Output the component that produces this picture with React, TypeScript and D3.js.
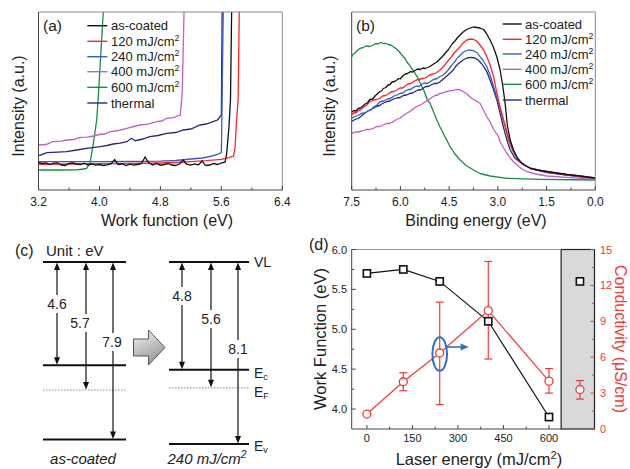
import React from 'react';
import * as d3 from 'd3';

const FONT = "'Liberation Sans', Arial, Helvetica, sans-serif";

// ---------- shared legend ----------
const seriesNames = ['as-coated', '120 mJ/cm', '240 mJ/cm', '400 mJ/cm', '600 mJ/cm', 'thermal'];
const seriesSup = [false, true, true, true, true, false];
const seriesColors = ['#111111', '#ff2626', '#3a5cc6', '#c060c0', '#1d8a44', '#28287a'];

// ---------- (a) secondary electron cutoff: [work function (eV), intensity (a.u.)] ----------
const wfTicks = [3.2, 4.0, 4.8, 5.6, 6.4];
const cutAsCoated: [number, number][] = [
  [3.20, 27.5], [3.25, 26.5], [3.30, 27.0], [3.35, 25.5], [3.40, 26.8], [3.45, 27.2], [3.50, 25.0], [3.55, 24.5],
  [3.60, 26.5], [3.65, 27.0], [3.70, 26.0], [3.75, 25.5], [3.80, 26.8], [3.85, 25.0], [3.90, 26.0], [3.95, 24.8],
  [4.00, 25.5], [4.05, 24.5], [4.10, 25.2], [4.15, 26.0], [4.20, 30.5], [4.23, 27.0], [4.25, 25.5], [4.30, 26.0],
  [4.35, 24.5], [4.40, 25.8], [4.45, 24.8], [4.50, 25.5], [4.55, 26.5], [4.60, 33.0], [4.63, 29.0], [4.65, 27.0],
  [4.70, 25.0], [4.75, 26.5], [4.80, 24.8], [4.85, 25.5], [4.90, 26.5], [4.95, 25.0], [5.00, 24.5], [5.05, 26.0],
  [5.10, 30.0], [5.13, 27.0], [5.15, 25.5], [5.20, 24.8], [5.25, 26.0], [5.30, 25.2], [5.35, 29.0], [5.38, 25.5],
  [5.40, 24.5], [5.45, 25.0], [5.50, 26.5], [5.55, 25.5], [5.60, 27.0], [5.65, 28.0], [5.67, 36.7], [5.70, 63.3],
  [5.72, 90], [5.735, 178], [5.745, 200],
];
const cut120: [number, number][] = [
  [3.2, 25.7], [3.6, 26.0], [4.0, 26.3], [4.4, 26.5], [4.8, 27.0], [5.0, 27.5], [5.2, 28.3], [5.4, 29.3],
  [5.6, 30.7], [5.7, 32.3], [5.76, 34], [5.78, 43], [5.80, 70], [5.82, 90], [5.835, 178], [5.845, 200],
];
const cut240: [number, number][] = [
  [3.2, 28.3], [3.6, 28.3], [4.0, 28.4], [4.4, 28.5], [4.8, 28.8], [5.0, 29.5], [5.2, 31], [5.35, 32],
  [5.45, 33.5], [5.55, 35.5], [5.6, 37.3], [5.605, 60], [5.615, 120], [5.625, 178], [5.63, 200],
];
const cut400: [number, number][] = [
  [3.2, 45], [3.3, 45.5], [3.39, 48.3], [3.5, 48.8], [3.57, 50], [3.66, 50.5], [3.75, 52.7], [3.84, 52.8],
  [3.92, 54], [4.0, 55.5], [4.07, 56], [4.14, 58.3], [4.25, 59.5], [4.36, 61.7], [4.45, 63.5], [4.53, 65],
  [4.64, 65.8], [4.75, 68.3], [4.82, 69], [4.88, 71.7], [4.97, 72.3], [5.06, 75], [5.08, 90], [5.09, 106.7],
  [5.11, 178], [5.115, 200],
];
const cut600: [number, number][] = [
  [3.2, 20], [3.5, 20], [3.7, 20.2], [3.79, 21], [3.83, 21.7], [3.876, 26.7], [3.92, 46.7], [3.964, 70],
  [3.985, 93.3], [4.05, 178], [4.06, 200],
];
const cutThermal: [number, number][] = [
  [3.207, 34.3], [3.31, 37.3], [3.45, 37.8], [3.57, 38.3], [3.7, 40], [3.83, 41.7], [4.01, 43.3], [4.1, 44.5],
  [4.18, 46], [4.27, 46.8], [4.36, 48.3], [4.42, 51.7], [4.47, 49.3], [4.57, 51], [4.66, 53.3], [4.77, 54.5],
  [4.88, 56.7], [5.0, 57.5], [5.10, 60], [5.2, 61], [5.32, 65], [5.40, 66], [5.49, 68.3], [5.55, 70],
  [5.60, 75], [5.61, 178], [5.615, 200],
];

// ---------- (b) valence band: [binding energy (eV), intensity (a.u.)] ----------
const beTicks = [7.5, 6.0, 4.5, 3.0, 1.5, 0.0];
const vbAsCoated: [number, number][] = [
  [7.50, 78], [7.43, 79.5], [7.37, 79], [7.30, 81.5], [7.24, 82], [7.17, 83.5], [7.09, 86], [7.02, 87],
  [6.94, 90.5], [6.86, 91], [6.78, 94], [6.70, 96.5], [6.63, 98.5], [6.58, 99], [6.53, 101.5], [6.45, 102.5],
  [6.38, 105], [6.32, 105.5], [6.26, 108], [6.18, 108.5], [6.11, 110], [6.06, 111.5], [6.01, 111], [5.93, 114],
  [5.85, 116], [5.78, 116.5], [5.70, 118.3], [5.62, 118], [5.55, 119.5], [5.47, 121], [5.39, 120.5], [5.31, 122],
  [5.24, 121.5], [5.16, 122.5], [5.09, 123.5], [4.98, 126], [4.88, 128], [4.80, 130.5], [4.72, 133], [4.65, 135.5],
  [4.59, 138], [4.53, 140], [4.47, 143], [4.40, 146.5], [4.32, 149], [4.24, 152.5], [4.16, 155], [4.07, 158],
  [3.96, 160.5], [3.85, 162], [3.75, 163], [3.65, 162.5], [3.55, 162], [3.44, 160.5], [3.36, 157], [3.24, 150],
  [3.14, 143], [3.03, 133], [2.93, 120], [2.84, 102], [2.77, 85], [2.71, 65], [2.62, 50], [2.52, 40],
  [2.41, 33], [2.31, 28.3], [2.16, 24.5], [2.00, 21.7], [1.79, 20], [1.49, 18.5], [1.20, 17], [0.87, 15.5],
  [0.46, 14], [0.00, 12],
];
const vb120: [number, number][] = [
  [7.50, 75], [7.43, 77.5], [7.37, 77], [7.30, 79.5], [7.24, 80], [7.15, 82.5], [7.04, 85], [6.93, 88.5],
  [6.83, 90], [6.73, 90.5], [6.63, 91.7], [6.55, 94], [6.46, 94.5], [6.38, 96], [6.30, 98], [6.20, 98.5],
  [6.11, 100], [6.02, 102], [5.93, 102], [5.85, 104], [5.77, 106], [5.68, 106.5], [5.60, 108.3], [5.50, 110],
  [5.39, 111], [5.30, 111.5], [5.19, 112.7], [5.10, 115], [4.99, 116], [4.90, 117], [4.78, 120], [4.70, 122.5],
  [4.63, 125], [4.55, 128.5], [4.47, 131.7], [4.40, 134.5], [4.32, 138], [4.24, 140.5], [4.16, 143.3], [4.10, 146],
  [4.07, 147], [3.96, 150], [3.85, 151], [3.75, 150.7], [3.65, 149], [3.55, 145], [3.44, 140], [3.34, 133.3],
  [3.24, 125], [3.13, 113.3], [3.05, 100], [2.98, 90], [2.90, 78], [2.83, 70], [2.72, 58], [2.62, 46.7],
  [2.50, 37], [2.36, 30], [2.19, 25], [2.00, 21.7], [1.70, 19.5], [1.49, 18.5], [0.87, 15.5], [0.00, 12],
];
const vb240: [number, number][] = [
  [7.50, 71.7], [7.40, 73.5], [7.30, 74.5], [7.20, 76.5], [7.10, 77], [7.00, 79], [6.91, 80], [6.82, 83],
  [6.72, 85], [6.63, 88.3], [6.52, 89], [6.40, 91], [6.30, 91.5], [6.20, 94], [6.11, 95], [6.02, 96.5],
  [5.93, 97], [5.85, 99], [5.76, 100.5], [5.68, 100.5], [5.60, 102.7], [5.50, 104], [5.43, 103.5], [5.36, 105.5],
  [5.26, 107], [5.17, 106.5], [5.09, 108.3], [4.98, 110.5], [4.87, 111.5], [4.78, 113.5], [4.68, 115], [4.60, 117.5],
  [4.53, 120], [4.45, 123.5], [4.37, 126.7], [4.30, 129.5], [4.25, 132], [4.18, 134], [4.11, 136.7], [4.00, 139],
  [3.90, 140], [3.75, 139.3], [3.63, 137], [3.55, 133.3], [3.44, 129], [3.34, 123.3], [3.24, 115], [3.13, 103.3],
  [3.01, 90], [2.88, 76.7], [2.77, 63], [2.67, 50], [2.55, 40], [2.41, 31.7], [2.24, 26], [2.00, 22],
  [1.49, 18], [0.87, 15], [0.00, 11.5],
];
const vb400: [number, number][] = [
  [7.50, 56.7], [7.40, 58], [7.30, 58], [7.18, 59], [7.06, 60.5], [6.95, 60.5], [6.83, 61.7], [6.73, 63.5],
  [6.63, 63.5], [6.54, 65], [6.43, 66.5], [6.33, 66.5], [6.22, 68.3], [6.12, 70.5], [6.01, 72], [5.91, 74.5],
  [5.81, 76.7], [5.71, 78.5], [5.61, 81], [5.50, 83.5], [5.39, 85], [5.27, 87.5], [5.14, 90], [5.04, 92.5],
  [4.93, 94.5], [4.85, 95], [4.78, 96.7], [4.70, 97], [4.63, 98], [4.55, 98.5], [4.47, 99.3], [4.37, 99.5],
  [4.27, 100.7], [4.16, 100], [4.06, 98.3], [3.95, 96], [3.81, 91.7], [3.67, 89], [3.55, 86.7], [3.34, 73.3],
  [3.24, 68], [3.12, 60], [2.98, 53.3], [2.93, 48.3], [2.84, 43], [2.72, 36.7], [2.62, 32], [2.52, 28.3],
  [2.41, 25], [2.28, 21.5], [2.10, 18.3], [1.85, 16], [1.49, 14], [0.77, 12.3], [0.00, 10.7],
];
const vb600: [number, number][] = [
  [7.50, 133.3], [7.45, 136], [7.40, 137], [7.33, 139.5], [7.24, 141.7], [7.15, 142.5], [7.06, 144], [6.95, 143.5],
  [6.83, 145], [6.76, 146.5], [6.69, 146], [6.61, 147.5], [6.53, 146.7], [6.45, 146.5], [6.38, 145.5], [6.30, 145],
  [6.22, 143.3], [6.14, 141.5], [6.07, 139.5], [5.99, 136.5], [5.91, 133.3], [5.85, 131], [5.80, 128], [5.72, 125],
  [5.65, 121.7], [5.58, 118.5], [5.52, 115], [5.45, 111], [5.39, 106.7], [5.27, 99], [5.17, 90], [5.09, 86.7],
  [4.99, 79], [4.88, 70], [4.78, 63], [4.68, 56.7], [4.47, 43.3], [4.32, 36], [4.16, 30], [3.98, 24.5],
  [3.75, 20], [3.55, 16.5], [3.24, 14], [2.72, 11.7], [1.70, 10.7], [0.00, 10],
];
const vbThermal: [number, number][] = [
  [7.50, 68.5], [7.40, 70.5], [7.30, 71.5], [7.20, 74], [7.09, 77], [6.98, 79.5], [6.87, 81], [6.75, 83.5],
  [6.64, 84.5], [6.53, 87], [6.42, 88.3], [6.32, 89], [6.21, 91], [6.11, 92], [6.01, 92.5], [5.91, 94.5],
  [5.81, 95], [5.71, 96.5], [5.63, 97], [5.55, 98.5], [5.46, 100], [5.38, 100], [5.30, 101.7], [5.22, 103.5],
  [5.14, 103.5], [5.06, 105], [4.96, 106.5], [4.87, 106.5], [4.78, 108.3], [4.68, 111], [4.57, 114], [4.47, 117],
  [4.37, 120], [4.30, 123.5], [4.23, 126], [4.15, 128], [4.07, 130], [3.95, 132], [3.81, 132.7], [3.71, 132],
  [3.61, 130], [3.49, 126], [3.34, 118.3], [3.24, 110], [3.13, 100], [3.03, 90], [2.93, 76.7], [2.83, 63],
  [2.72, 50], [2.62, 40], [2.47, 31.7], [2.24, 26], [2.00, 21.7], [1.49, 17.5], [0.87, 15], [0.00, 11.7],
];

// ---------- (c) energy levels below vacuum level (eV) ----------
const levelNames = ['VL', 'E', 'E', 'E'];
const levelSubs = ['', 'c', 'F', 'v'];
const levelsAsCoated = [0, 4.6, 5.7, 7.9];
const levels240 = [0, 4.8, 5.6, 8.1];

// ---------- (d) work function & conductivity ----------
const laserEnergy = [0, 120, 240, 400, 600];
const workFunction = [5.70, 5.75, 5.60, 5.10, 3.90];
const conductivity = [1.25, 3.95, 6.35, 9.9, 4.0];
const condErrLow = [1.25, 3.2, 2.05, 5.85, 3.0];
const condErrHigh = [1.25, 4.7, 10.6, 14.0, 5.05];
const thermalX = 702;
const thermalWF = 5.6;
const thermalCond = 3.3;
const thermalCondLow = 2.5;
const thermalCondHigh = 4.05;
const laserTicks = [0, 150, 300, 450, 600];
const laserMinor = [75, 225, 375, 525];
const wfAxisTicks = [4.0, 4.5, 5.0, 5.5, 6.0];
const wfAxisMinor = [4.25, 4.75, 5.25, 5.75];
const condTicks = [0, 3, 6, 9, 12, 15];
const condMinor = [1.5, 4.5, 7.5, 10.5, 13.5];

const RED = '#f03a3a';

function Sup({ base, sup, size }: { base: string; sup: boolean; size: number }) {
  return (
    <>
      {base}
      {sup && (
        <tspan fontSize={size * 0.68} dy={-size * 0.38}>2</tspan>
      )}
    </>
  );
}

function Legend({ x1, x2, tx, rows }: { x1: number; x2: number; tx: number; rows: number[] }) {
  return (
    <g>
      {seriesNames.map((n, i) => (
        <g key={n}>
          <line x1={x1} x2={x2} y1={rows[i]} y2={rows[i]} stroke={seriesColors[i]} strokeWidth={1.4} />
          <text x={tx} y={rows[i] + 4.6} fontSize={13} fill="#222">
            <Sup base={n} sup={seriesSup[i]} size={13} />
          </text>
        </g>
      ))}
    </g>
  );
}

function PanelA() {
  const x = d3.scaleLinear().domain([3.2, 6.4]).range([38.5, 282.3]);
  const y = d3.scaleLinear().domain([0, 178]).range([190, 12]);
  const line = d3.line<[number, number]>().x(d => x(d[0])).y(d => y(d[1]));
  const curves: [[number, number][], number][] = [
    [cut600, 4], [cut400, 3], [cutThermal, 5], [cut240, 2], [cut120, 1], [cutAsCoated, 0],
  ];
  const minor = d3.range(3.6, 6.4, 0.8);
  return (
    <g>
      <defs>
        <clipPath id="clipA"><rect x={38.5} y={12} width={243.8} height={178} /></clipPath>
      </defs>
      <g clipPath="url(#clipA)">
        {curves.map(([d, ci], k) => (
          <path key={k} d={line(d) || ''} fill="none" stroke={seriesColors[ci]} strokeWidth={1.3} />
        ))}
      </g>
      <line x1={38.5} x2={282.3} y1={12} y2={12} stroke="#8a8a8a" />
      <line x1={282.3} x2={282.3} y1={12} y2={190} stroke="#8a8a8a" />
      <line x1={38.5} x2={38.5} y1={12} y2={190} stroke="#444" />
      <line x1={38.5} x2={282.3} y1={190} y2={190} stroke="#444" />
      {wfTicks.map(t => (
        <g key={t}>
          <line x1={x(t)} x2={x(t)} y1={190} y2={186} stroke="#444" />
          <text x={x(t)} y={206} fontSize={12} textAnchor="middle" fill="#222">{t.toFixed(1)}</text>
        </g>
      ))}
      {minor.map(t => <line key={t} x1={x(t)} x2={x(t)} y1={190} y2={187.5} stroke="#444" />)}
      <Legend x1={87.3} x2={107.3} tx={111} rows={[25.7, 41.3, 56.7, 71.7, 87.3, 103]} />
      <text x={43} y={31} fontSize={15.5} fill="#222">(a)</text>
      <text x={167} y={226} fontSize={16} textAnchor="middle" fill="#222">Work function (eV)</text>
      <text transform="translate(24,106) rotate(-90)" fontSize={16} textAnchor="middle" fill="#222">Intensity (a.u.)</text>
    </g>
  );
}

function PanelB() {
  const x = d3.scaleLinear().domain([7.5, 0]).range([351.7, 595.3]);
  const y = d3.scaleLinear().domain([0, 178]).range([190, 12]);
  const line = d3.line<[number, number]>().x(d => x(d[0])).y(d => y(d[1]));
  const curves: [[number, number][], number][] = [
    [vb600, 4], [vb400, 3], [vbThermal, 5], [vb240, 2], [vb120, 1], [vbAsCoated, 0],
  ];
  const minor = [6.75, 5.25, 3.75, 2.25, 0.75];
  return (
    <g>
      <defs>
        <clipPath id="clipB"><rect x={351.7} y={12} width={243.6} height={178} /></clipPath>
      </defs>
      <g clipPath="url(#clipB)">
        {curves.map(([d, ci], k) => (
          <path key={k} d={line(d) || ''} fill="none" stroke={seriesColors[ci]} strokeWidth={1.3} strokeLinejoin="round" />
        ))}
      </g>
      <line x1={351.7} x2={595.3} y1={12} y2={12} stroke="#8a8a8a" />
      <line x1={595.3} x2={595.3} y1={12} y2={190} stroke="#8a8a8a" />
      <line x1={351.7} x2={351.7} y1={12} y2={190} stroke="#444" />
      <line x1={351.7} x2={595.3} y1={190} y2={190} stroke="#444" />
      {beTicks.map(t => (
        <g key={t}>
          <line x1={x(t)} x2={x(t)} y1={190} y2={186} stroke="#444" />
          <text x={x(t)} y={206} fontSize={12} textAnchor="middle" fill="#222">{t.toFixed(1)}</text>
        </g>
      ))}
      {minor.map(t => <line key={t} x1={x(t)} x2={x(t)} y1={190} y2={187.5} stroke="#444" />)}
      <Legend x1={502.7} x2={521.7} tx={525} rows={[24, 39.3, 54, 69.3, 84.3, 100]} />
      <text x={356} y={31} fontSize={15.5} fill="#222">(b)</text>
      <text x={476} y={226} fontSize={16} textAnchor="middle" fill="#222">Binding energy (eV)</text>
      <text transform="translate(335,106) rotate(-90)" fontSize={16} textAnchor="middle" fill="#222">Intensity (a.u.)</text>
    </g>
  );
}

function Arrow2({ x, y1, y2 }: { x: number; y1: number; y2: number }) {
  const h = 8, w = 3;
  return (
    <g>
      <line x1={x} x2={x} y1={y1 + h - 1} y2={y2 - h + 1} stroke="#111" strokeWidth={1.2} />
      <path d={`M${x},${y1 + 0.5} L${x - w},${y1 + h} L${x + w},${y1 + h} Z`} fill="#111" />
      <path d={`M${x},${y2 - 0.5} L${x - w},${y2 - h} L${x + w},${y2 - h} Z`} fill="#111" />
    </g>
  );
}

function Diagram({ levels, x0, x1, arrowX, labelX, labelY, showNames }: {
  levels: number[]; x0: number; x1: number; arrowX: number[]; labelX: number[]; labelY: number[]; showNames: boolean;
}) {
  const y = d3.scaleLinear().domain([0, 8.1]).range([262, 444]);
  return (
    <g>
      {levels.map((lv, i) => (
        i === 2
          ? <line key={i} x1={x0} x2={x1} y1={y(lv)} y2={y(lv)} stroke="#888" strokeWidth={1} strokeDasharray="1.5,1.5" />
          : <line key={i} x1={x0} x2={x1} y1={y(lv)} y2={y(lv)} stroke="#111" strokeWidth={2} />
      ))}
      {levels.slice(1).map((lv, i) => (
        <g key={i}>
          <Arrow2 x={arrowX[i]} y1={y(0)} y2={y(lv)} />
          <rect x={labelX[i] - 11} y={labelY[i] - 9} width={22} height={18} fill="#fff" />
          <text x={labelX[i]} y={labelY[i] + 5} fontSize={14} textAnchor="middle" fill="#222">{lv.toFixed(1)}</text>
        </g>
      ))}
      {showNames && levels.map((lv, i) => (
        <text key={'n' + i} x={x1 + 5} y={y(lv) + (i === 0 ? 5 : i === 1 ? 8 : i === 2 ? 9 : 7)} fontSize={14} fill="#222">
          {levelNames[i]}
          {levelSubs[i] && <tspan fontSize={9} dy={2}>{levelSubs[i]}</tspan>}
        </text>
      ))}
    </g>
  );
}

function PanelC() {
  return (
    <g>
      <defs>
        <linearGradient id="bigArrow" x1="0" y1="0" x2="0.4" y2="1">
          <stop offset="0" stopColor="#f4f4f4" />
          <stop offset="1" stopColor="#9a9a9a" />
        </linearGradient>
      </defs>
      <text x={15} y={256} fontSize={16} fill="#222">(c)</text>
      <text x={46} y={256} fontSize={15} fill="#222">Unit : eV</text>
      <Diagram levels={levelsAsCoated} x0={43} x1={126} arrowX={[57, 86, 113]} labelX={[57, 80, 112]}
        labelY={[304, 323, 342]} showNames={false} />
      <Diagram levels={levels240} x0={169} x1={249} arrowX={[182, 211, 238]} labelX={[182, 211, 238]}
        labelY={[296, 319, 349]} showNames={true} />
      <path d="M133.5,339 L148.5,339 L148.5,330 L165,347.5 L148.5,365 L148.5,356 L133.5,356 Z"
        fill="url(#bigArrow)" stroke="#555" strokeWidth={1} />
      <text x={83} y={464} fontSize={15} fontStyle="italic" textAnchor="middle" fill="#222">as-coated</text>
      <text x={207} y={464} fontSize={15} fontStyle="italic" textAnchor="middle" fill="#222">
        <Sup base="240 mJ/cm" sup={true} size={15} />
      </text>
    </g>
  );
}

function PanelD() {
  const L = 351.7, R = 594.5, T = 249.5, B = 429;
  const x = d3.scaleLinear().domain([-50, 750]).range([L, R]);
  const yL = d3.scaleLinear().domain([3.75, 6.0]).range([B, T]);
  const yR = d3.scaleLinear().domain([0, 15]).range([B, T]);
  const wfLine = d3.line<number>().x((_, i) => x(laserEnergy[i])).y(d => yL(d));
  const cdLine = d3.line<number>().x((_, i) => x(laserEnergy[i])).y(d => yR(d));
  const grayX = x(640);
  const sq = 3.6;
  const errBar = (cx: number, lo: number, hi: number, key: string) => (
    <g key={key} stroke={RED} strokeWidth={1.2}>
      <line x1={cx} x2={cx} y1={yR(lo)} y2={yR(hi)} />
      <line x1={cx - 4} x2={cx + 4} y1={yR(lo)} y2={yR(lo)} />
      <line x1={cx - 4} x2={cx + 4} y1={yR(hi)} y2={yR(hi)} />
    </g>
  );
  const ex = x(laserEnergy[2]), ey = yR(conductivity[2]);
  return (
    <g>
      <rect x={grayX} y={T} width={R - grayX} height={B - T} fill="#d9d9d9" stroke="#222" strokeWidth={1.2} />
      <line x1={L} x2={grayX} y1={T} y2={T} stroke="#999" />
      <line x1={L} x2={L} y1={T} y2={B} stroke="#444" />
      <line x1={L} x2={grayX} y1={B} y2={B} stroke="#444" />
      {laserTicks.map(t => (
        <g key={t}>
          <line x1={x(t)} x2={x(t)} y1={B} y2={B - 4} stroke="#444" />
          <text x={x(t)} y={441.5} fontSize={11} textAnchor="middle" fill="#222">{t}</text>
        </g>
      ))}
      {laserMinor.map(t => <line key={t} x1={x(t)} x2={x(t)} y1={B} y2={B - 2.5} stroke="#444" />)}
      {wfAxisTicks.map(t => (
        <g key={t}>
          <line x1={L} x2={L + 4} y1={yL(t)} y2={yL(t)} stroke="#444" />
          <text x={347} y={yL(t) + 4} fontSize={11} textAnchor="end" fill="#222">{t.toFixed(1)}</text>
        </g>
      ))}
      {wfAxisMinor.map(t => <line key={t} x1={L} x2={L + 2.5} y1={yL(t)} y2={yL(t)} stroke="#444" />)}
      {condTicks.map(t => (
        <g key={t}>
          <line x1={R} x2={R - 4} y1={yR(t)} y2={yR(t)} stroke={RED} />
          <text x={600} y={yR(t) + 4} fontSize={11} fill={RED}>{t}</text>
        </g>
      ))}
      {condMinor.map(t => <line key={t} x1={R} x2={R - 2.5} y1={yR(t)} y2={yR(t)} stroke={RED} />)}

      <path d={wfLine(workFunction) || ''} fill="none" stroke="#111" strokeWidth={1.2} />
      <path d={cdLine(conductivity) || ''} fill="none" stroke={RED} strokeWidth={1.2} />
      {laserEnergy.map((e, i) => (i > 0 ? errBar(x(e), condErrLow[i], condErrHigh[i], 'e' + i) : null))}
      {errBar(x(thermalX), thermalCondLow, thermalCondHigh, 'et')}
      {laserEnergy.map((e, i) => (
        <rect key={'s' + i} x={x(e) - sq} y={yL(workFunction[i]) - sq} width={sq * 2} height={sq * 2}
          fill="#fff" stroke="#111" strokeWidth={1.6} />
      ))}
      <rect x={x(thermalX) - sq} y={yL(thermalWF) - sq} width={sq * 2} height={sq * 2} fill="#fff" stroke="#111" strokeWidth={1.6} />
      {laserEnergy.map((e, i) => (
        <circle key={'c' + i} cx={x(e)} cy={yR(conductivity[i])} r={4} fill="#fff" stroke={RED} strokeWidth={1.3} />
      ))}
      <circle cx={x(thermalX)} cy={yR(thermalCond)} r={4} fill="#fff" stroke={RED} strokeWidth={1.3} />

      <ellipse cx={ex} cy={ey + 1} rx={7.3} ry={16.8} fill="none" stroke="#2f6fc4" strokeWidth={2} />
      <line x1={ex + 7.3} x2={ex + 23} y1={ey - 6} y2={ey - 6} stroke="#2f6fc4" strokeWidth={1.6} />
      <path d={`M${ex + 29},${ey - 6} L${ex + 21},${ey - 9.5} L${ex + 21},${ey - 2.5} Z`} fill="#2f6fc4" />

      <text x={309} y={250} fontSize={16} fill="#222">(d)</text>
      <text x={479} y={465} fontSize={16.5} textAnchor="middle" fill="#222">
        <Sup base="Laser energy (mJ/cm" sup={true} size={16.5} />
        <tspan dy={16.5 * 0.38}>)</tspan>
      </text>
      <text transform="translate(326,339) rotate(-90)" fontSize={16.5} textAnchor="middle" fill="#222">Work Function (eV)</text>
      <text transform="translate(615,339) rotate(90)" fontSize={16} textAnchor="middle" fill={RED}>Conductivity (μS/cm)</text>
    </g>
  );
}

export default function App() {
  return (
    <svg width={630} height={469} viewBox="0 0 630 469"
      style={{ position: 'absolute', left: 0, top: 0, background: '#fff', fontFamily: FONT }}>
      <rect x={0} y={0} width={630} height={469} fill="#fff" />
      <PanelA />
      <PanelB />
      <PanelC />
      <PanelD />
    </svg>
  );
}
